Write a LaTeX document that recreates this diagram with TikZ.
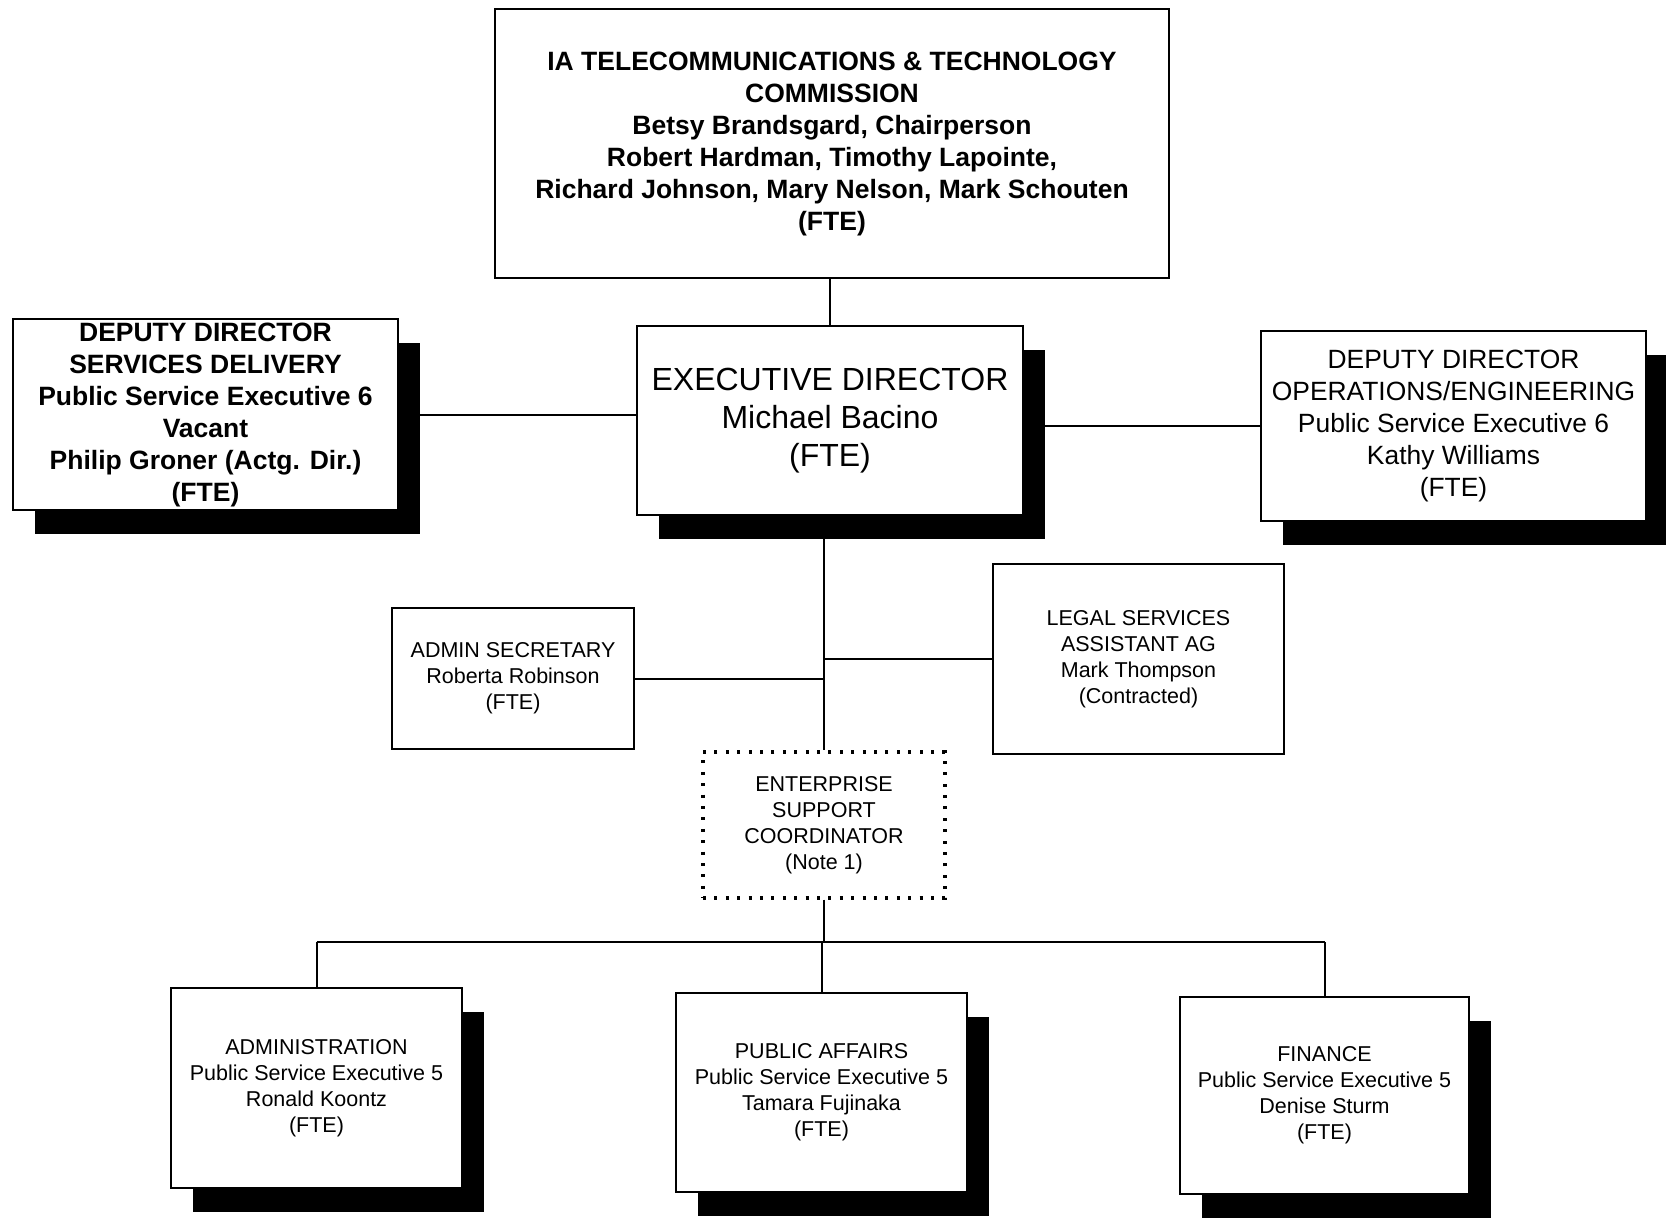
\documentclass[tikz,border=0pt]{standalone}
\usepackage{fontspec}
\setmainfont{Liberation Sans}
\usetikzlibrary{shadows,backgrounds,calc}
\begin{document}
\begin{tikzpicture}[x=1pt,y=-1pt,
  box/.style={draw=black, line width=2.4pt, fill=white, align=center, inner sep=0pt},
  shad/.style={drop shadow={shadow xshift=22pt, shadow yshift=-24pt, fill=black, opacity=1}},
  boldtxt/.style={font=\fontsize{26.5}{32}\selectfont\bfseries},
  exectxt/.style={font=\fontsize{32}{38}\selectfont},
  medtxt/.style={font=\fontsize{26.4}{32}\selectfont},
  smalltxt/.style={font=\fontsize{21.5}{26}\selectfont},
  dotbox/.style={draw=black, line width=3.2pt, dash pattern=on 3pt off 8.4pt, fill=white, align=center, inner sep=0pt},
  link/.style={line width=2pt}]
\useasboundingbox (0,0) rectangle (1666,1218);

\node[box, boldtxt, minimum width=674pt, minimum height=269pt] (top) at (832,143.5)
  {IA TELECOMMUNICATIONS \& TECHNOLOGY\\COMMISSION\\Betsy Brandsgard, Chairperson\\Robert Hardman, Timothy Lapointe,\\Richard Johnson, Mary Nelson, Mark Schouten\\(FTE)};

\node[box, shad, boldtxt, minimum width=385pt, minimum height=191pt] (ldep) at (205.5,414.5)
  {DEPUTY DIRECTOR\\SERVICES DELIVERY\\Public Service Executive 6\\Vacant\\Philip Groner (Actg. Dir.)\\(FTE)};

\node[box, shad, exectxt, minimum width=386pt, minimum height=189pt] (exec) at (830,420.5)
  {EXECUTIVE DIRECTOR\\Michael Bacino\\(FTE)};

\node[box, shad, medtxt, minimum width=385pt, minimum height=190pt] (rdep) at (1453.5,426)
  {DEPUTY DIRECTOR\\OPERATIONS/ENGINEERING\\Public Service Executive 6\\Kathy Williams\\(FTE)};

\node[box, smalltxt, minimum width=242pt, minimum height=141pt] (asec) at (513,678.5)
  {ADMIN SECRETARY\\Roberta Robinson\\(FTE)};

\node[box, smalltxt, minimum width=291pt, minimum height=190pt] (legal) at (1138.5,659)
  {LEGAL SERVICES\\ASSISTANT AG\\Mark Thompson\\(Contracted)};

\node[dotbox, smalltxt, minimum width=242pt, minimum height=146pt] (ent) at (824,825)
  {ENTERPRISE\\SUPPORT\\COORDINATOR\\(Note 1)};

\node[box, shad, smalltxt, minimum width=291pt, minimum height=200pt] (adm) at (316.5,1088)
  {ADMINISTRATION\\Public Service Executive 5\\Ronald Koontz\\(FTE)};

\node[box, shad, smalltxt, minimum width=291pt, minimum height=199pt] (pa) at (821.5,1092.5)
  {PUBLIC AFFAIRS\\Public Service Executive 5\\Tamara Fujinaka\\(FTE)};

\node[box, shad, smalltxt, minimum width=289pt, minimum height=197pt] (fin) at (1324.5,1095.5)
  {FINANCE\\Public Service Executive 5\\Denise Sturm\\(FTE)};

\coordinate (bus) at (0,942);

\begin{pgfonlayer}{background}
  \draw[link] (exec.north) -- (exec.north |- top.south);
  \draw[link] (ldep.east) -- (ldep.east -| exec.west);
  \draw[link] (rdep.west) -- (rdep.west -| exec.east);
  \draw[link] (exec.south -| ent.north) -- (ent.north);
  \draw[link] (asec.east) -- (asec.east -| ent.north);
  \draw[link] (legal.west) -- (legal.west -| ent.north);
  \draw[link] (ent.south) -- (ent.south |- bus);
  \draw[link] (adm.north |- bus) -- (fin.north |- bus);
  \draw[link] (adm.north |- bus) -- (adm.north);
  \draw[link] (pa.north |- bus) -- (pa.north);
  \draw[link] (fin.north |- bus) -- (fin.north);
\end{pgfonlayer}
\end{tikzpicture}
\end{document}
